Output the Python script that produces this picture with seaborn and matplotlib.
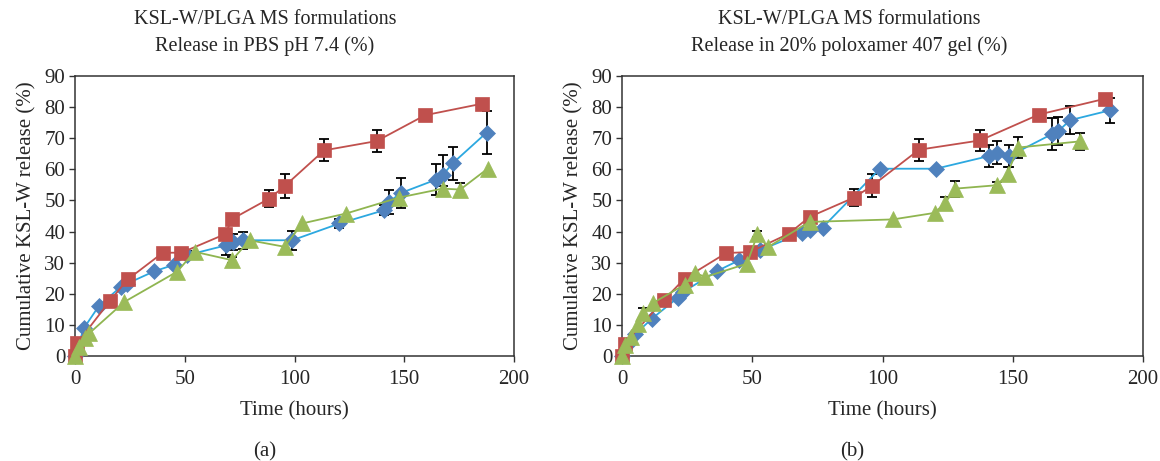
import numpy as np
import matplotlib
matplotlib.use("Agg")
import matplotlib.pyplot as plt
import seaborn as sns

# ---- data (hours, cumulative % released) ----
# (a) release in PBS pH 7.4
pbs_red_t = [0, 1, 16, 24, 40, 48.5, 68.5, 71.5, 88.5, 95.5, 113.5, 137.5, 159.5, 185.5]
pbs_red_y = [0, 4.1, 17.8, 24.6, 33.2, 33.2, 39.2, 44.0, 50.6, 54.6, 66.1, 69.1, 77.4, 81.1]
pbs_red_e = [0, 0, 0, 0, 0, 0, 0, 0, 2.8, 3.8, 3.5, 3.6, 0, 1.0]

pbs_blue_t = [0, 4, 11, 21, 23.5, 36, 45, 51, 69, 72, 76.5, 99, 120.5, 141, 143, 148.5, 164.5, 167.5, 172, 187.5]
pbs_blue_y = [0, 8.9, 16.2, 22.3, 23.2, 27.2, 29.3, 32.4, 35.6, 36.7, 37.2, 37.2, 42.6, 46.9, 49.5, 52.4, 56.7, 58.1, 61.9, 71.8]
pbs_blue_e = [0, 0, 0, 0, 0, 0, 0, 1.2, 3.0, 2.5, 2.7, 3.0, 1.3, 1.5, 3.7, 4.8, 5.0, 6.4, 5.3, 6.9]

pbs_green_t = [0, 2, 4.5, 6.5, 22.5, 46.5, 54.5, 71.5, 79.5, 95.5, 103.5, 123.5, 147.5, 167.5, 175.5, 188]
pbs_green_y = [0, 3.0, 5.7, 7.3, 17.4, 27.1, 33.5, 30.8, 37.2, 35.1, 42.6, 45.8, 50.9, 53.8, 53.5, 60.2]
pbs_green_e = [0, 0, 0, 0, 0, 0, 0, 1.0, 0, 0, 0, 0, 0, 1.0, 2.0, 0]

# (b) release in 20% poloxamer 407 gel
gel_red_t = [0, 1, 16, 24, 40, 49, 64, 72, 89, 96, 114, 137.5, 160, 185.5]
gel_red_y = [0, 4.0, 17.9, 24.9, 33.1, 33.4, 39.3, 44.7, 50.9, 54.7, 66.3, 69.3, 77.6, 82.7]
gel_red_e = [0, 0, 0, 0, 0, 0, 0, 0, 2.8, 3.7, 3.5, 3.4, 0, 0.5]

gel_blue_t = [0, 2, 5, 11.5, 21.5, 23.5, 36.5, 45, 53, 69, 72, 77, 99, 120.5, 141, 144, 148.5, 165, 167.5, 172, 187.5]
gel_blue_y = [0, 3.4, 7.0, 12.0, 18.8, 20.6, 27.3, 30.8, 34.0, 39.5, 40.4, 41.3, 60.2, 60.2, 64.3, 65.4, 64.2, 71.3, 72.3, 75.8, 79.0]
gel_blue_e = [0, 0, 0, 0, 0, 0, 0, 0, 0, 0, 0, 0, 0, 0, 3.4, 3.8, 3.5, 5.2, 4.5, 4.4, 4.0]

gel_green_t = [0, 1, 3.5, 6, 8, 12, 24, 28, 32, 48, 52, 56, 72, 104, 120, 124, 128, 144, 148, 152, 176]
gel_green_y = [0, 3.4, 6.1, 10.4, 13.9, 17.1, 22.9, 26.7, 25.4, 29.7, 39.1, 35.0, 43.1, 43.9, 46.0, 49.2, 53.8, 54.9, 58.6, 67.0, 69.0]
gel_green_e = [0, 0, 0, 0, 1.5, 0, 0, 0, 0, 0, 1.0, 0, 0, 0, 0, 2.0, 2.6, 1.0, 2.0, 3.5, 2.7]

titles = ["KSL-W/PLGA MS formulations\nRelease in PBS pH 7.4 (%)",
          "KSL-W/PLGA MS formulations\nRelease in 20% poloxamer 407 gel (%)"]
panel_tags = ["(a)", "(b)"]

sns.set_style("white")
plt.rcParams['font.family'] = ['Liberation Serif', 'DejaVu Serif']

fig = plt.figure(figsize=(11.6, 4.61), dpi=100)
ax1 = fig.add_axes([75 / 1160, 105 / 461, 439 / 1160, 280 / 461])
ax2 = fig.add_axes([622 / 1160, 105 / 461, 521 / 1160, 280 / 461])

# marker colour, line colour, marker, size
styles = {
    'blue': ('#4F81BD', '#2CA8E0', 'D', 8.0),
    'red': ('#C0504D', '#C0504D', 's', 10.5),
    'green': ('#9BBB59', '#8FB550', '^', 12.0),
}

panels = [
    (ax1, [('blue', pbs_blue_t, pbs_blue_y, pbs_blue_e),
           ('red', pbs_red_t, pbs_red_y, pbs_red_e),
           ('green', pbs_green_t, pbs_green_y, pbs_green_e)]),
    (ax2, [('blue', gel_blue_t, gel_blue_y, gel_blue_e),
           ('red', gel_red_t, gel_red_y, gel_red_e),
           ('green', gel_green_t, gel_green_y, gel_green_e)]),
]

for ax, series in panels:
    for name, t, y, e in series:
        mcol, lcol, mk, ms = styles[name]
        t = np.array(t)
        y = np.array(y)
        e = np.array(e)
        has = e > 0
        # error bars behind the markers
        ax.errorbar(t[has], y[has], yerr=e[has], fmt='none', ecolor='black',
                    elinewidth=1.3, capsize=3.6, capthick=1.3, zorder=2)
        sns.lineplot(x=t, y=y, ax=ax, sort=False, estimator=None, color=lcol,
                     linewidth=1.3, marker=mk, markersize=ms,
                     markerfacecolor=mcol, markeredgecolor=mcol,
                     markeredgewidth=0.5, zorder=3, clip_on=False)

for i, ax in enumerate([ax1, ax2]):
    ax.set_xlim(0, 200)
    ax.set_ylim(0, 90)
    ax.set_xticks(np.arange(0, 201, 50))
    ax.set_yticks(np.arange(0, 91, 10))
    ax.tick_params(axis='both', direction='out', length=4, width=1,
                   color='#333333', labelsize=15, pad=3, bottom=True, left=True)
    ax.tick_params(axis='x', pad=6)
    for s in ax.spines.values():
        s.set_color('#333333')
        s.set_linewidth(1.1)
    ax.set_xlabel('Time (hours)', fontsize=15, labelpad=9)
    ax.set_ylabel('Cumulative KSL-W release (%)', fontsize=15, labelpad=6)

fig.text(265 / 1160, 1 - 33 / 461, titles[0], ha='center', va='center', fontsize=14.5, linespacing=1.5)
fig.text(849 / 1160, 1 - 33 / 461, titles[1], ha='center', va='center', fontsize=14.5, linespacing=1.5)
fig.text(265 / 1160, 1 - 452 / 461, panel_tags[0], ha='center', va='center', fontsize=15)
fig.text(852 / 1160, 1 - 452 / 461, panel_tags[1], ha='center', va='center', fontsize=15)

fig.savefig('out.png', dpi=100)
